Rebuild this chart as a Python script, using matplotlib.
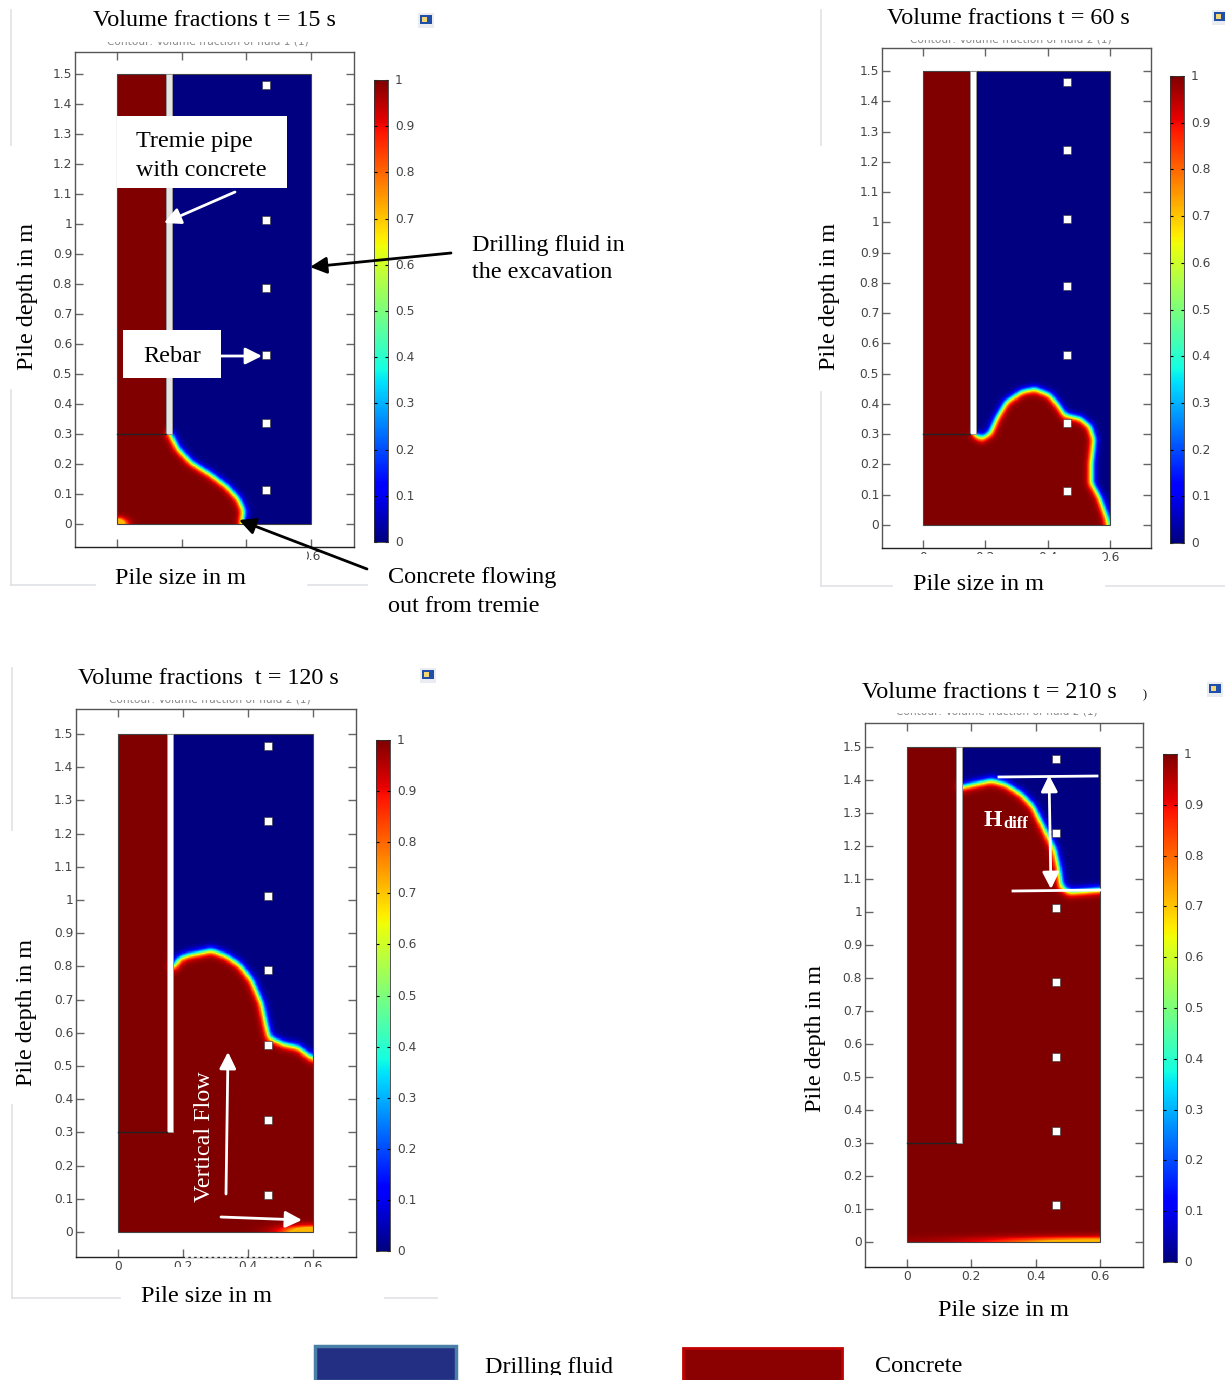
import numpy as np
import matplotlib
matplotlib.use("Agg")
import matplotlib.pyplot as plt
from matplotlib.path import Path
from matplotlib.patches import Rectangle
from matplotlib.transforms import ScaledTranslation

plt.rcParams['font.family'] = ['DejaVu Sans']
SERIF = 'Liberation Serif'

W, H = 1225, 1380

# interface between concrete and drilling fluid (x, y in m)
x_15 = [0.165, 0.19, 0.23, 0.29, 0.34, 0.375, 0.392, 0.387]
y_15 = [0.30, 0.25, 0.205, 0.165, 0.125, 0.085, 0.045, 0.0]
x_60 = [0.17, 0.188, 0.215, 0.236, 0.268, 0.317, 0.359, 0.407, 0.434, 0.456, 0.504, 0.536, 0.549, 0.541, 0.541, 0.568, 0.589, 0.595]
y_60 = [0.297, 0.286, 0.303, 0.352, 0.407, 0.44, 0.449, 0.429, 0.396, 0.363, 0.352, 0.325, 0.281, 0.204, 0.138, 0.088, 0.027, 0.0]
x_120 = [0.172, 0.19, 0.216, 0.252, 0.288, 0.334, 0.375, 0.411, 0.442, 0.455, 0.466, 0.509, 0.555, 0.58, 0.6]
y_120 = [0.80, 0.824, 0.834, 0.841, 0.849, 0.831, 0.804, 0.759, 0.689, 0.629, 0.586, 0.566, 0.556, 0.536, 0.523]
x_210 = [0.171, 0.216, 0.263, 0.309, 0.356, 0.392, 0.428, 0.459, 0.473, 0.48, 0.506, 0.547, 0.6]
y_210 = [1.379, 1.389, 1.399, 1.386, 1.356, 1.32, 1.25, 1.189, 1.128, 1.078, 1.06, 1.063, 1.068]

rebar_x = [0.462] * 7
rebar_y = [1.464, 1.238, 1.012, 0.788, 0.562, 0.337, 0.112]

pipe_left = 0.152
pipe_right = 0.17
pipe_bottom = 0.3

x_ticks = [0, 0.2, 0.4, 0.6]
x_tick_labels = ['0', '0.2', '0.4', '0.6']
y_ticks = [0, 0.1, 0.2, 0.3, 0.4, 0.5, 0.6, 0.7, 0.8, 0.9, 1, 1.1, 1.2, 1.3, 1.4, 1.5]
y_tick_labels = ['0', '0.1', '0.2', '0.3', '0.4', '0.5', '0.6', '0.7', '0.8', '0.9', '1', '1.1', '1.2', '1.3', '1.4', '1.5']
cb_ticks = [0, 0.1, 0.2, 0.3, 0.4, 0.5, 0.6, 0.7, 0.8, 0.9, 1]
cb_labels = ['0', '0.1', '0.2', '0.3', '0.4', '0.5', '0.6', '0.7', '0.8', '0.9', '1']

# frame l,r,t,b / pile x=0, x=0.6, y=0, y=1.5 / colorbar l,r,t,b (all pixels)
# smear = small half mixed patch on the pile floor: x, y, x radius, y radius
panels = [
    dict(ix=x_15, iy=y_15, frame=(75, 354, 52, 547), pile=(117, 311, 524, 74), cb=(374, 388, 80, 542),
         smear=(0.0, 0.0, 0.015, 0.01), wall='#e4e4e4'),
    dict(ix=x_60, iy=y_60, frame=(882, 1151, 48, 548), pile=(923, 1110, 525, 71), cb=(1170, 1184, 76, 543),
         smear=None, wall='white'),
    dict(ix=x_120, iy=y_120, frame=(76, 356, 709, 1257), pile=(118, 313, 1232, 734), cb=(376, 390, 740, 1251),
         smear=(0.6, 0.0, 0.04, 0.008), wall='white'),
    dict(ix=x_210, iy=y_210, frame=(865, 1143, 723, 1267), pile=(907, 1100, 1242, 747), cb=(1163, 1177, 754, 1262),
         smear=(0.6, 0.0, 0.045, 0.002), wall='white'),
]


def make_axes(l, r, t, b):
    return fig.add_axes([l / W, 1 - b / H, (r - l) / W, (b - t) / H])


def soften(a, n):
    # box blur along both grid directions, rounds the corners of the outline
    k = np.ones(2 * n + 1) / (2 * n + 1)
    for axis in (0, 1):
        pad = [(n, n) if i == axis else (0, 0) for i in (0, 1)]
        a = np.apply_along_axis(lambda v: np.convolve(v, k, mode='valid'), axis, np.pad(a, pad, mode='edge'))
    return a


def volume_field(ix, iy, smear):
    xs = np.linspace(0, 0.6, 360)
    ys = np.linspace(0, 1.5, 900)
    gx, gy = np.meshgrid(xs, ys)
    ix = np.array(ix)
    iy = np.array(iy)
    # closing the concrete region round the outside of the pile
    if iy[-1] < 0.001:
        tail = [(ix[-1], -0.1), (-0.1, -0.1)]
    else:
        tail = [(0.7, iy[-1]), (0.7, -0.1), (-0.1, -0.1)]
    poly = list(zip(ix, iy)) + tail + [(-0.1, 1.6), (0.16, 1.6), (0.16, iy[0])]
    pts = np.column_stack([gx.ravel(), gy.ravel()])
    inside = Path(poly).contains_points(pts).reshape(gx.shape)

    dist = np.full(gx.shape, 9.0)
    for i in range(len(ix) - 1):
        ax_, ay_ = ix[i], iy[i]
        dx, dy = ix[i + 1] - ax_, iy[i + 1] - ay_
        t = ((gx - ax_) * dx + (gy - ay_) * dy) / (dx * dx + dy * dy)
        t = np.clip(t, 0, 1)
        dist = np.minimum(dist, np.hypot(gx - ax_ - t * dx, gy - ay_ - t * dy))
    signed = soften(np.where(inside, dist, -dist), 7)
    if smear is not None:
        sx_, sy_, rx, ry = smear
        patch = (np.hypot((gx - sx_) / rx, (gy - sy_) / ry) - 1) * ry
        signed = np.minimum(signed, np.maximum(patch, 0.006))
    return xs, ys, 0.5 + 0.5 * np.tanh(signed / 0.013)


def nudge_up(labels, px):
    for lab in labels:
        lab.set_transform(lab.get_transform() + ScaledTranslation(0, px / 100, fig.dpi_scale_trans))


fig = plt.figure(figsize=(W / 100, H / 100), dpi=100, facecolor='white')

for p in panels:
    fl, fr, ft, fb = p['frame']
    x0, x6, y0, y15 = p['pile']
    sx = 0.6 / (x6 - x0)
    sy = 1.5 / (y0 - y15)
    ax = make_axes(fl, fr, ft, fb)
    ax.set_xlim((fl - x0) * sx, (fr - x0) * sx)
    ax.set_ylim((y0 - fb) * sy, (y0 - ft) * sy)

    xs, ys, field = volume_field(p['ix'], p['iy'], p['smear'])
    ax.pcolormesh(xs, ys, field, cmap='jet', vmin=0, vmax=1, shading='auto', rasterized=True, zorder=1)
    ax.add_patch(Rectangle((0, 0), 0.6, 1.5, fill=False, ec='#444444', lw=0.8, zorder=2))
    ax.add_patch(Rectangle((pipe_left, pipe_bottom), pipe_right - pipe_left, 1.5 - pipe_bottom,
                           fc=p['wall'], ec='#999999', lw=0.7, zorder=3))
    ax.plot([0, pipe_left], [pipe_bottom, pipe_bottom], color='#222222', lw=1, zorder=3)
    ax.scatter(rebar_x, rebar_y, marker='s', s=36, c='white', edgecolors='#333333', linewidths=0.4, zorder=4)

    ax.set_xticks(x_ticks)
    ax.set_xticklabels(x_tick_labels)
    ax.set_yticks(y_ticks)
    ax.set_yticklabels(y_tick_labels)
    ax.tick_params(axis='both', direction='in', length=6, width=1, color='#666666', labelsize=8.8,
                   labelcolor='#444444', top=True, right=True, pad=2)
    nudge_up(ax.get_yticklabels(), 1)
    for s in ax.spines.values():
        s.set_color('#555555')
        s.set_linewidth(1)
    ax.spines['bottom'].set_color('#222222')

    l, r, t, b = p['cb']
    cax = make_axes(l, r, t, b)
    grad = np.linspace(0, 1, 256)
    cax.pcolormesh([0, 1], np.linspace(0, 1, 257), grad[:, None], cmap='jet', vmin=0, vmax=1)
    cax.set_xticks([])
    cax.set_yticks(cb_ticks)
    cax.set_yticklabels(cb_labels)
    cax.tick_params(axis='y', direction='in', length=2.5, width=0.8, left=True, right=True,
                    labelleft=False, labelright=True, labelsize=8.8, labelcolor='#444444', pad=5)
    nudge_up(cax.get_yticklabels(), 1)
    for s in cax.spines.values():
        s.set_linewidth(0.6)
        s.set_color('#333333')

# everything drawn over the plots is placed in picture pixels
ov = fig.add_axes([0, 0, 1, 1], facecolor='none')
ov.set_xlim(0, W)
ov.set_ylim(H, 0)
ov.axis('off')


def box(x1, y1, x2, y2, fc='white', ec='none', lw=0, z=3):
    ov.add_patch(Rectangle((x1, y1), x2 - x1, y2 - y1, fc=fc, ec=ec, lw=lw, zorder=z))


def label(x, y, s, size=17.4, color='black', **kw):
    kw.setdefault('va', 'center')
    ov.text(x, y, s, family=SERIF, fontsize=size, color=color, zorder=6, **kw)


def arrow(x1, y1, x2, y2, color='black', lw=2, style='-|>', scale=25):
    ov.annotate('', xy=(x2, y2), xytext=(x1, y1), zorder=7,
                arrowprops=dict(arrowstyle=style, color=color, lw=lw, mutation_scale=scale, shrinkA=0, shrinkB=0))


# faint outlines of the pasted screenshots
for seg in [((11, 10), (11, 145)), ((11, 390), (11, 585)), ((11, 585), (95, 585)), ((308, 585), (367, 585)),
            ((821, 10), (821, 145)), ((821, 392), (821, 586)), ((821, 586), (892, 586)), ((1106, 586), (1225, 586)),
            ((12, 668), (12, 830)), ((12, 1105), (12, 1298)), ((12, 1298), (120, 1298)), ((385, 1298), (437, 1298))]:
    ov.plot([seg[0][0], seg[1][0]], [seg[0][1], seg[1][1]], color='#dfe1e6', lw=1.2, zorder=1)

# half hidden COMSOL plot headings
for cx, cy, n in [(208, 41, 1), (1011, 39, 2), (210, 699, 2), (997, 712, 2)]:
    ov.text(cx, cy, 'Contour: Volume fraction of fluid %d (1)' % n, ha='center', va='center',
            fontsize=7.6, color='#888888', zorder=2)
    box(cx - 125, cy - 9, cx + 125, cy + 1)

# masks over the cut off tick labels
box(95, 551, 307, 570)
box(892, 554, 1104, 572)
box(125, 1267, 380, 1284)
ov.plot([185, 295], [1257, 1257], color='white', lw=1.2, ls=(0, (2, 1.5)), zorder=4)

# screenshot icons
for ix_, iy_ in [(426, 20), (1220, 17), (428, 675), (1215, 689)]:
    box(ix_ - 8, iy_ - 7, ix_ + 8, iy_ + 8, fc='#e9edf2')
    box(ix_ - 6, iy_ - 5, ix_ + 6, iy_ + 4, fc='#1f4fa8', z=4)
    box(ix_ - 4, iy_ - 3, ix_ + 1, iy_ + 2, fc='#f2d774', z=5)

label(93, 20, 'Volume fractions t = 15 s')
label(887, 18, 'Volume fractions t = 60 s')
label(78, 679, 'Volume fractions  t = 120 s')
label(862, 692, 'Volume fractions t = 210 s')
label(1145, 695, ')', size=9, ha='center')

label(115, 579, 'Pile size in m')
label(913, 585, 'Pile size in m')
label(141, 1297, 'Pile size in m')
label(938, 1311, 'Pile size in m')

for x, y in [(28, 296), (829, 297), (27, 1012), (815, 1038)]:
    label(x, y, 'Pile depth in m', rotation=90, ha='center')

# panel 1 notes
box(117, 116, 287, 188)
box(123, 330, 221, 378)
label(136, 142, 'Tremie pipe')
label(136, 170, 'with concrete')
label(143, 357, 'Rebar')
label(472, 245, 'Drilling fluid in')
label(472, 272, 'the excavation')
label(388, 578, 'Concrete flowing')
label(388, 606, 'out from tremie')
arrow(235, 192, 164, 223, color='white')
arrow(221, 356, 262, 356, color='white')
arrow(451, 253, 310, 267)
arrow(367, 569, 239, 520)

# panel 3 notes
label(204, 1137, 'Vertical Flow', color='white', rotation=90, ha='center')
arrow(226, 1194, 228, 1052, color='white')
arrow(221, 1217, 302, 1220, color='white')

# panel 4 notes
label(984, 820, 'H', color='white', size=17, weight='bold')
label(1003, 824, 'diff', color='white', size=12, weight='bold')
ov.plot([999, 1097], [777, 776], color='white', lw=2, zorder=7)
ov.plot([1013, 1100], [891, 890], color='white', lw=2, zorder=7)
arrow(1050, 832, 1049, 775, color='white')
arrow(1050, 832, 1051, 889, color='white')

# legend
box(315, 1346, 456, 1381, fc='#232f83', ec='#4a7fa8', lw=2.5)
box(683, 1348, 842, 1381, fc='#8b0000', ec='#c00000', lw=2)
label(485, 1367, 'Drilling fluid')
label(875, 1367, 'Concrete')
ov.add_patch(Rectangle((480, 1375), 140, 6, fc='white', ec='none', zorder=8))

fig.savefig('out.png', dpi=100)
